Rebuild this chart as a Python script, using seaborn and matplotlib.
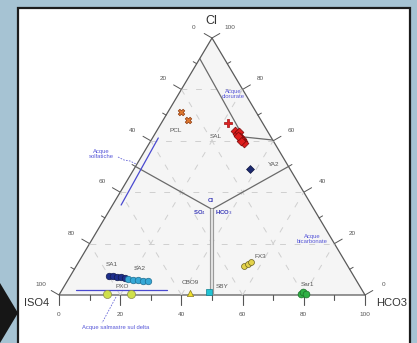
import numpy as np
import pandas as pd
import matplotlib
matplotlib.use("Agg")
import matplotlib.pyplot as plt
from matplotlib.patches import Polygon, Rectangle
import seaborn as sns

sns.set_theme(style="white")
plt.rcParams["font.family"] = ["Liberation Sans", "DejaVu Sans"]

# ---- anion compositions (percent of meq): SO4, HCO3, Cl ----
pcl_hco3 = [4.3, 8.1]
pcl_cl = [71.2, 68.1]

salp_hco3 = [21.8]
salp_cl = [66.9]

sal_hco3 = [25.6, 26.9, 27.1, 28.4, 29.5, 30.2, 30.9, 29.5, 27.5]
sal_cl = [63.8, 62.6, 63.4, 61.5, 60.7, 59.9, 59.1, 59.9, 61.9]

ya2_hco3 = [37.9]
ya2_cl = [49.0]

sa1_hco3 = [12.6, 13.9, 15.5, 16.8, 18.3]
sa1_cl = [7.4, 7.4, 7.0, 7.0, 6.6]

sa2_hco3 = [19.4, 21.3, 22.9, 24.8, 26.4]
sa2_cl = [6.2, 5.8, 5.8, 5.4, 5.4]

pxo_hco3 = [15.4, 23.2]
pxo_cl = [0.4, 0.4]

cbo9_hco3 = [42.4]
cbo9_cl = [0.8]

sby_hco3 = [48.4]
sby_cl = [1.2]

fx3_hco3 = [54.9, 55.7, 56.3]
fx3_cl = [11.3, 12.1, 12.8]

sar1_hco3 = [78.8, 79.1, 80.5]
sar1_cl = [0.4, 1.2, 0.4]

tick_values = [0, 20, 40, 60, 80, 100]

# ---- triangle placement on the page ----
X0, Y0, W, H = 59.0, 295.0, 306.0, 257.0


def to_xy(hco3, cl):
    hco3 = np.asarray(hco3, dtype=float) / 100.0
    cl = np.asarray(cl, dtype=float) / 100.0
    return X0 + W * (hco3 + cl / 2.0), Y0 - H * cl


fig = plt.figure(figsize=(4.17, 3.43), dpi=100)
fig.patch.set_facecolor("#a6c3d3")
ax = fig.add_axes([0, 0, 1, 1])
ax.set_xlim(0, 417)
ax.set_ylim(343, 0)
ax.set_axis_off()
ax.set_facecolor("none")

# page panel and pointer
ax.add_patch(Rectangle((18, 8), 392, 345, facecolor="white", edgecolor="#1c1c1c",
                       lw=1.6, zorder=0))
ax.add_patch(Polygon([(0, 283), (18, 313), (0, 343)], closed=True,
                     facecolor="#161616", edgecolor="none", zorder=1))

# triangle body
A = to_xy(0, 0)
B = to_xy(100, 0)
C = to_xy(0, 100)
tri = Polygon([A, B, C], closed=True, facecolor="#f5f5f5", edgecolor="#5a5a5a",
              lw=0.9, zorder=1)
ax.add_patch(tri)

# dashed internal grid every 20 %
grid_kw = dict(color="#cfcfcf", lw=0.7, ls=(0, (6, 9)), zorder=1.5)
for v in [20, 40, 60, 80]:
    # constant Cl
    x, y = to_xy([0, 100 - v], [v, v])
    ax.plot(x, y, **grid_kw)
    # constant HCO3
    x, y = to_xy([v, v], [0, 100 - v])
    ax.plot(x, y, **grid_kw)
    # constant SO4
    x, y = to_xy([100 - v, 0], [0, 100 - v])
    ax.plot(x, y, **grid_kw)

# classification boundaries
cent_h, cent_c = 100 / 3, 100 / 3
x, y = to_xy([0, cent_h, 50], [50, cent_c, 50])
ax.plot(x, y, color="#6a6a6a", lw=0.9, zorder=2)
x, y = to_xy([cent_h, 50], [cent_c, 0])
ax.plot(x, y, color="#9a9a9a", lw=3.0, zorder=2, solid_capstyle="butt")
ax.plot(x, y, color="#e2e2e2", lw=1.4, zorder=2.1, solid_capstyle="butt")
x, y = to_xy([0, 29.5, 39.7], [92.0, 61.5, 60.3])
ax.plot(x, y, color="#6a6a6a", lw=0.9, zorder=2)

# blue brackets and leaders
x, y = to_xy([1.9, 2.8], [61.1, 35.0])
ax.plot(x, y, color="#4a4ad0", lw=0.9, zorder=2)
x, y = to_xy([4.6, 34.3], [2.0, 2.0])
ax.plot(x, y, color="#4a4ad0", lw=0.9, zorder=2)
ax.plot([118, 124, 130, 136], [157, 160, 161, 164], color="#6a6ad8", lw=0.6,
        ls=(0, (2, 1.5)), zorder=2)
ax.plot([116, 102], [297, 323], color="#6a6ad8", lw=0.6, ls=(0, (2, 1.5)), zorder=2)

# ticks and tick labels on the three sides
tick_col = "#555555"
nl = np.array([-0.866, -0.5])
nr = np.array([0.866, -0.5])
for i in range(0, 101, 10):
    L = 9 if i % 20 == 0 else 4
    # left side (SO4)
    px, py = to_xy(0, 100 - i)
    ax.plot([px, px + nl[0] * L], [py, py + nl[1] * L], color=tick_col, lw=0.7, zorder=2)
    # right side (Cl)
    px, py = to_xy(100 - i, i)
    ax.plot([px, px + nr[0] * L], [py, py + nr[1] * L], color=tick_col, lw=0.7, zorder=2)
    # bottom (HCO3)
    px, py = to_xy(i, 0)
    ax.plot([px, px], [py, py + L + 1], color=tick_col, lw=0.8, zorder=2)

for v in tick_values:
    px, py = to_xy(0, 100 - v)
    ax.text(px + nl[0] * 21, py + nl[1] * 21, str(v), fontsize=4.6, color=tick_col,
            ha="center", va="center")
    px, py = to_xy(100 - v, v)
    ax.text(px + nr[0] * 21, py + nr[1] * 21, str(v), fontsize=4.6, color=tick_col,
            ha="center", va="center")
    px, py = to_xy(v, 0)
    ax.text(px, py + 20, str(v), fontsize=4.6, color=tick_col, ha="center", va="center")

# corner names
ax.text(211, 21, "Cl", fontsize=9, color="#333333", ha="center", va="center")
ax.text(37, 303, "ISO4", fontsize=8, color="#333333", ha="center", va="center")
ax.text(392, 303, "HCO3", fontsize=8, color="#333333", ha="center", va="center")

# centre labels
blue = "#3a3ab8"
ax.text(211, 201, "Cl", fontsize=4.3, color=blue, ha="center", va="center",
        fontweight="bold")
ax.text(200, 213, "SO$_4$", fontsize=4.3, color=blue, ha="center", va="center",
        fontweight="bold")
ax.text(224, 213, "HCO$_3$", fontsize=4.3, color=blue, ha="center", va="center",
        fontweight="bold")

# facies labels
rl = dict(fontsize=4.2, color="#5656d8", ha="center", va="center", linespacing=1.0)
ax.text(233, 94, "Acque\nclorurate", **rl)
ax.text(101, 154, "Acque\nsolfatiche", **rl)
ax.text(312, 239, "Acque\nbicarbonate", **rl)
ax.text(116, 327, "Acque salmastre sul delta", **rl)

# ---- samples ----
groups = [
    ("PCL", pcl_hco3, pcl_cl),
    ("SAL+", salp_hco3, salp_cl),
    ("SAL", sal_hco3, sal_cl),
    ("YA2", ya2_hco3, ya2_cl),
    ("SA1", sa1_hco3, sa1_cl),
    ("SA2", sa2_hco3, sa2_cl),
    ("PXO", pxo_hco3, pxo_cl),
    ("CBO9", cbo9_hco3, cbo9_cl),
    ("SBY", sby_hco3, sby_cl),
    ("FX3", fx3_hco3, fx3_cl),
    ("Sar1", sar1_hco3, sar1_cl),
]
rows = []
for name, h, c in groups:
    for hv, cv in zip(h, c):
        rows.append({"site": name, "HCO3": hv, "Cl": cv, "SO4": 100 - hv - cv})
df = pd.DataFrame(rows)
df["x"], df["y"] = to_xy(df["HCO3"], df["Cl"])

style = {
    "PCL": dict(color="#e0782f", marker="X", s=22, edgecolor="#8a3a10"),
    "SAL+": dict(color="#e02020", marker="P", s=26, edgecolor="#a01010"),
    "SAL": dict(color="#dd1c1c", marker="D", s=20, edgecolor="#7a0a0a"),
    "YA2": dict(color="#1d2a70", marker="D", s=16, edgecolor="#0e1540"),
    "SA1": dict(color="#1e2f8c", marker="o", s=22, edgecolor="#101a50"),
    "SA2": dict(color="#35a8d6", marker="o", s=22, edgecolor="#1c6c90"),
    "PXO": dict(color="#cfe04a", marker="o", s=34, edgecolor="#8a8a50"),
    "CBO9": dict(color="#f1e12a", marker="^", s=20, edgecolor="#8a7a20"),
    "SBY": dict(color="#20c3d3", marker="s", s=22, edgecolor="#108090"),
    "FX3": dict(color="#e3d24a", marker="o", s=18, edgecolor="#6a6020"),
    "Sar1": dict(color="#2fb045", marker="o", s=24, edgecolor="#1a7028"),
}
for name, sub in df.groupby("site", sort=False):
    st = style[name]
    sns.scatterplot(data=sub, x="x", y="y", ax=ax, color=st["color"], marker=st["marker"],
                    s=st["s"], edgecolor=st["edgecolor"], linewidth=0.5, zorder=4,
                    legend=False)
ax.set_xlabel("")
ax.set_ylabel("")
ax.set_xlim(0, 417)
ax.set_ylim(343, 0)

# sample names
lab = dict(fontsize=4.6, color="#555555", ha="center", va="center")
for name, px, py in [("PCL", 176, 131), ("SAL", 216, 136), ("YA2", 274, 165),
                     ("SA1", 112, 265), ("SA2", 140, 268), ("PXO", 122, 287),
                     ("CBO9", 190, 283), ("SBY", 222, 286), ("FX3", 260, 256),
                     ("Sar1", 307, 284)]:
    ax.text(px, py, name, **lab)

fig.savefig("out.png", dpi=100, facecolor=fig.get_facecolor())
